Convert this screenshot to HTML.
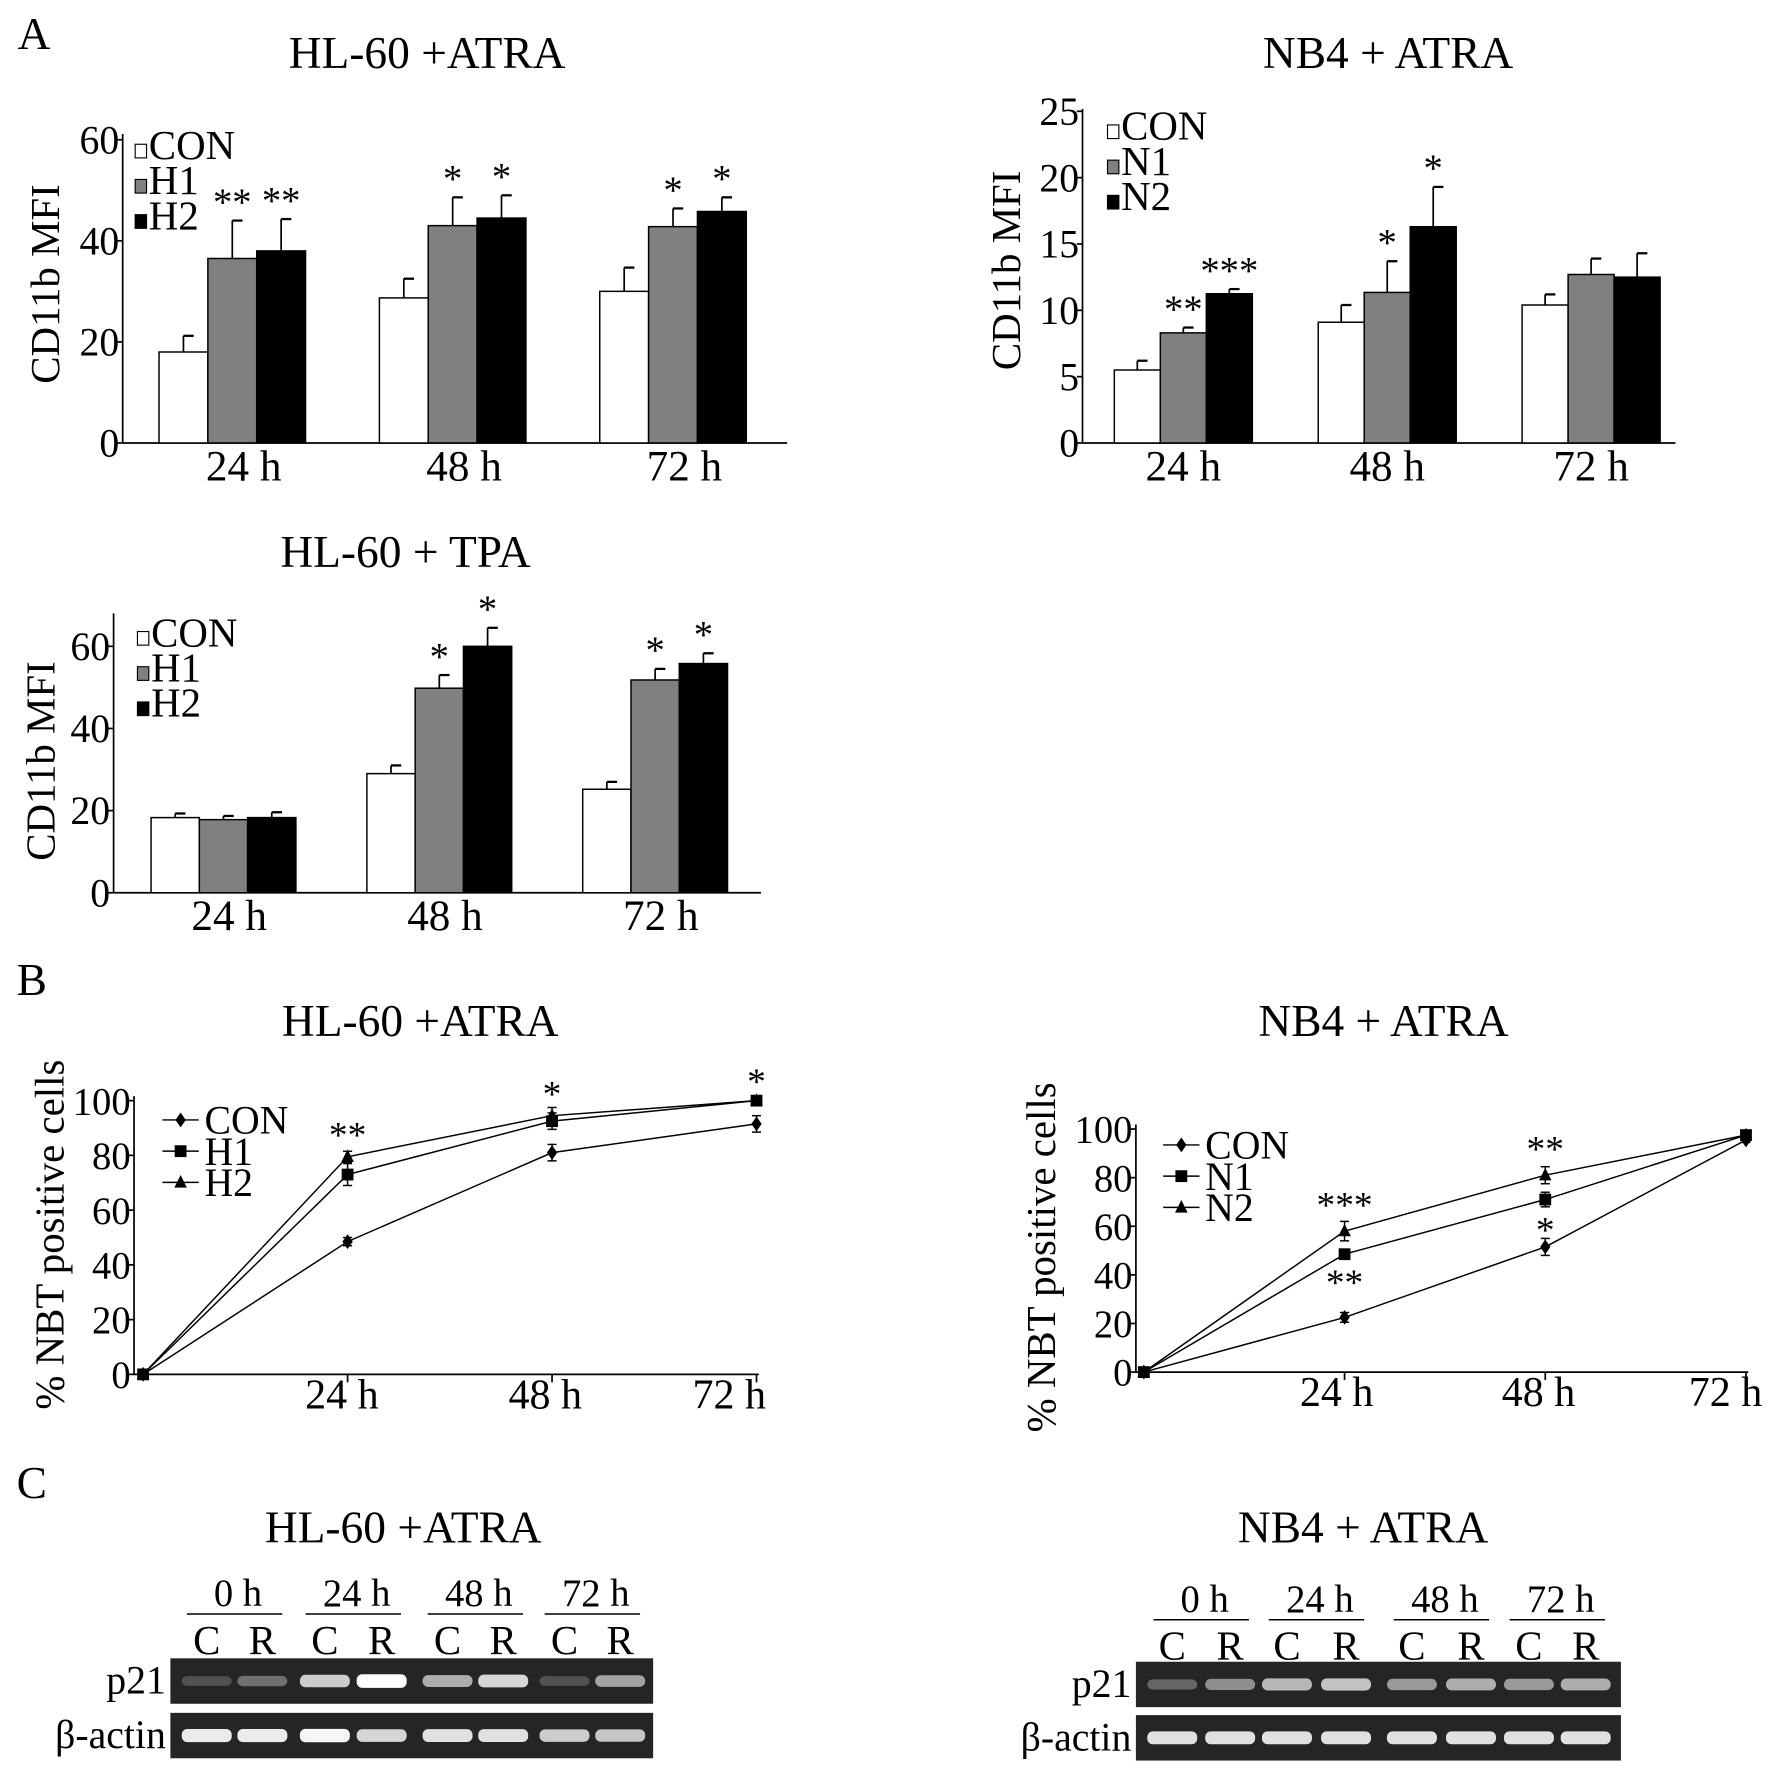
<!DOCTYPE html>
<html><head><meta charset="utf-8"><style>
html,body{margin:0;padding:0;background:#fff}
svg{display:block}
text{font-family:"Liberation Serif",serif;fill:#000}
</style></head><body>
<svg id="fig" xmlns="http://www.w3.org/2000/svg" width="1772" height="1781" viewBox="0 0 1560 1568" preserveAspectRatio="none"></svg>
<script>
// ---- Panel A1: HL-60 + ATRA CD11b ----
const a1Categories = ["24 h","48 h","72 h"];
const a1Series = ["CON","H1","H2"];
const a1Con = [18, 28.7, 30];
const a1H1 = [36.5, 43, 42.8];
const a1H2 = [38, 44.5, 45.8];
const a1ConErr = [3.2, 3.8, 4.7];
const a1H1Err = [7.5, 5.6, 3.6];
const a1H2Err = [6.3, 4.5, 2.8];
const a1Stars = [["","**","**"],["","*","*"],["","*","*"]];
const a1Ticks = [0,20,40,60];
// ---- Panel A2: NB4 + ATRA CD11b ----
const a2Categories = ["24 h","48 h","72 h"];
const a2Series = ["CON","N1","N2"];
const a2Con = [5.5, 9.1, 10.4];
const a2N1 = [8.3, 11.35, 12.7];
const a2N2 = [11.25, 16.3, 12.5];
const a2ConErr = [0.7, 1.3, 0.8];
const a2N1Err = [0.4, 2.35, 1.2];
const a2N2Err = [0.35, 3.0, 1.8];
const a2Stars = [["","**","***"],["","*","*"],["","",""]];
const a2Ticks = [0,5,10,15,20,25];
// ---- Panel A3: HL-60 + TPA CD11b ----
const a3Categories = ["24 h","48 h","72 h"];
const a3Series = ["CON","H1","H2"];
const a3Con = [18.3, 29, 25.2];
const a3H1 = [17.8, 49.8, 51.8];
const a3H2 = [18.3, 60, 55.8];
const a3ConErr = [1, 2, 1.8];
const a3H1Err = [0.9, 3.2, 2.7];
const a3H2Err = [1.3, 4.5, 2.5];
const a3Stars = [["","",""],["","*","*"],["","*","*"]];
const a3Ticks = [0,20,40,60];
// ---- Panel B1: HL-60 + ATRA NBT ----
const b1Times = ["","24 h","48 h","72 h"];
const b1Series = ["CON","H1","H2"];
const b1Con = [0, 48.5, 81, 91.5];
const b1H1 = [0, 73, 92.5, 100];
const b1H2 = [0, 79.5, 94.5, 100];
const b1ConErr = [0, 1.5, 3, 3];
const b1H1Err = [0, 4, 3, 1];
const b1H2Err = [0, 2, 3, 1];
const b1Ticks = [0,20,40,60,80,100];
// ---- Panel B2: NB4 + ATRA NBT ----
const b2Times = ["","24 h","48 h","72 h"];
const b2Series = ["CON","N1","N2"];
const b2Con = [0, 22.5, 51.5, 95.5];
const b2N1 = [0, 48.5, 71, 97.5];
const b2N2 = [0, 58, 81, 97.5];
const b2ConErr = [0, 2, 3.5, 1];
const b2N1Err = [0, 2, 3, 1];
const b2N2Err = [0, 4, 3.5, 1];
const b2Ticks = [0,20,40,60,80,100];
// ---- Panel C: gels (band intensity 0-1) ----
const gelTimes = ["0 h","24 h","48 h","72 h"];
const gelLanes = ["C","R","C","R","C","R","C","R"];
const c1P21 = [0.15, 0.3, 0.75, 1.0, 0.6, 0.8, 0.15, 0.55];
const c1Actin = [0.9, 0.9, 0.95, 0.8, 0.85, 0.85, 0.75, 0.72];
const c2P21 = [0.25, 0.45, 0.65, 0.7, 0.5, 0.6, 0.5, 0.6];
const c2Actin = [0.85, 0.85, 0.85, 0.85, 0.85, 0.85, 0.85, 0.85];

const NS = "http://www.w3.org/2000/svg";
const svg = document.getElementById("fig");
function el(tag, attrs, parent, txt){
  const e = document.createElementNS(NS, tag);
  for (const k in attrs) e.setAttribute(k, attrs[k]);
  if (txt !== undefined) e.textContent = txt;
  (parent || svg).appendChild(e);
  return e;
}
function txt(x,y,s,size,anchor,parent,name,extra){
  const t = el("text",Object.assign({x:x,y:y,"font-size":size,"text-anchor":anchor||"middle"},extra||{}),parent,s);
  
  
  return t;
}
const fills = ["#ffffff","#808080","#000000"];

function barChart(id, cfg, cats, series, vals, errs, stars, ticks){
  const g = el("g",{},svg);
  
  
  const ymax = ticks[ticks.length-1];
  const Y = v => cfg.y0 - (cfg.y0-cfg.yTop)*v/ymax;
  txt(cfg.titleX, cfg.titleY, cfg.title, 40, "middle", g, "chart-title");
  const ya = el("line",{x1:cfg.x0,y1:cfg.axisTop,x2:cfg.x0,y2:cfg.y0,stroke:"#000","stroke-width":1.5},g);
  
  
  const xa = el("line",{x1:cfg.x0,y1:cfg.y0,x2:cfg.xEnd,y2:cfg.y0,stroke:"#000","stroke-width":1.5},g);
  
  
  ticks.forEach(t=>{
    el("line",{x1:cfg.x0-5,y1:Y(t),x2:cfg.x0,y2:Y(t),stroke:"#000","stroke-width":1.5},g);
    txt(cfg.x0-3, Y(t)+12, String(t), 35, "end", g, "y-tick-label");
  });
  txt(0,0,"CD11b MFI",36,"middle",g,"y-axis-title",{transform:`translate(${cfg.ylX},${cfg.ylY}) rotate(-90)`});
  const nS = series.length;
  cats.forEach((c,i)=>{
    const gx = cfg.firstX + i*cfg.groupStep;
    series.forEach((s,j)=>{
      const x = gx + j*cfg.barW;
      const v = vals[j][i], e = errs[j][i];
      const top = Y(v), etop = Y(v+e);
      el("line",{x1:x+cfg.barW/2,y1:top,x2:x+cfg.barW/2,y2:etop,stroke:"#000","stroke-width":1.5},g);
      el("line",{x1:x+cfg.barW/2,y1:etop,x2:x+cfg.barW/2+9,y2:etop,stroke:"#000","stroke-width":2},g);
      const r = el("rect",{x:x,y:top,width:cfg.barW,height:cfg.y0-top,fill:fills[j],stroke:"#000","stroke-width":1.3},g);
      
      
      if (stars[i][j]) txt(x+cfg.barW/2, etop-5, stars[i][j], 34, "middle", g, "significance-star");
    });
    txt(gx + nS*cfg.barW/2 + cfg.labDx, cfg.y0+33, c, 38, "middle", g, "x-tick-label");
  });
  series.forEach((s,j)=>{
    const ly = cfg.legY + j*31;
    const sq = el("rect",{x:cfg.legX,y:ly-13,width:10,height:12,fill:fills[j],stroke:"#000","stroke-width":1},g);
    
    
    txt(cfg.legX+12, ly, s, 36, "start", g, "legend-entry");
  });
}

barChart("chart-hl60-atra-cd11b",
  {title:"HL-60 +ATRA",titleX:376,titleY:60,x0:108,y0:390,yTop:123,axisTop:118,xEnd:693,firstX:140,groupStep:194,barW:43,ylX:52,ylY:250,legX:119,legY:140,labDx:10},
  a1Categories,a1Series,[a1Con,a1H1,a1H2],[a1ConErr,a1H1Err,a1H2Err],a1Stars,a1Ticks);
barChart("chart-nb4-atra-cd11b",
  {title:"NB4 + ATRA",titleX:1222,titleY:60,x0:953,y0:390,yTop:98,axisTop:96,xEnd:1475,firstX:981,groupStep:179.5,barW:40.5,ylX:898,ylY:238,legX:975,legY:123,labDx:0},
  a2Categories,a2Series,[a2Con,a2N1,a2N2],[a2ConErr,a2N1Err,a2N2Err],a2Stars,a2Ticks);
barChart("chart-hl60-tpa-cd11b",
  {title:"HL-60 + TPA",titleX:357,titleY:499,x0:100,y0:786,yTop:569,axisTop:540,xEnd:670,firstX:133,groupStep:190,barW:42.5,ylX:48,ylY:670,legX:121,legY:569,labDx:5},
  a3Categories,a3Series,[a3Con,a3H1,a3H2],[a3ConErr,a3H1Err,a3H2Err],a3Stars,a3Ticks);

function marker(g,type,x,y,s){
  let m;
  if (type===0) m = el("polygon",{points:`${x},${y-s} ${x+s*0.7},${y} ${x},${y+s} ${x-s*0.7},${y}`,fill:"#000"},g);
  else if (type===1) m = el("rect",{x:x-s*0.8,y:y-s*0.8,width:s*1.6,height:s*1.6,fill:"#000"},g);
  else m = el("polygon",{points:`${x},${y-s} ${x+s*0.85},${y+s*0.7} ${x-s*0.85},${y+s*0.7}`,fill:"#000"},g);
  return m;
}
function lineChart(id,cfg,times,series,vals,errs,ticks,stars){
  const g = el("g",{},svg);
  
  
  const ymax = ticks[ticks.length-1];
  const Y = v => cfg.y0 - (cfg.y0-cfg.yTop)*v/ymax;
  const X = i => cfg.px0 + i*cfg.step;
  txt(cfg.titleX,cfg.titleY,cfg.title,40,"middle",g,"chart-title");
  const ya = el("line",{x1:cfg.x0,y1:cfg.yTop-4,x2:cfg.x0,y2:cfg.y0,stroke:"#000","stroke-width":1.5},g);
  
  
  const xa = el("line",{x1:cfg.x0,y1:cfg.y0,x2:X(times.length-1)+2,y2:cfg.y0,stroke:"#000","stroke-width":1.5},g);
  
  
  ticks.forEach(t=>{
    el("line",{x1:cfg.x0-5,y1:Y(t),x2:cfg.x0,y2:Y(t),stroke:"#000","stroke-width":1.5},g);
    txt(cfg.x0-3,Y(t)+12,String(t),34,"end",g,"y-tick-label");
  });
  times.forEach((t,i)=>{
    if(i===0) return;
    el("line",{x1:X(i),y1:cfg.y0,x2:X(i),y2:cfg.y0+7,stroke:"#000","stroke-width":1.5},g);
    txt(X(i)+cfg.tickDx[i],cfg.y0+30,t,37,"middle",g,"x-tick-label");
  });
  txt(0,0,"% NBT positive cells",36,"middle",g,"y-axis-title",{transform:`translate(${cfg.ylX},${cfg.ylY}) rotate(-90)`});
  series.forEach((s,j)=>{
    const pts = vals[j].map((v,i)=>`${X(i)},${Y(v)}`).join(" ");
    const pl = el("polyline",{points:pts,fill:"none",stroke:"#000","stroke-width":1.3},g);
    
    
    vals[j].forEach((v,i)=>{
      const e = errs[j][i];
      if (e>0){
        el("line",{x1:X(i),y1:Y(v-e),x2:X(i),y2:Y(v+e),stroke:"#000","stroke-width":1.3},g);
        el("line",{x1:X(i)-4,y1:Y(v-e),x2:X(i)+4,y2:Y(v-e),stroke:"#000","stroke-width":1.3},g);
        el("line",{x1:X(i)-4,y1:Y(v+e),x2:X(i)+4,y2:Y(v+e),stroke:"#000","stroke-width":1.3},g);
      }
      const m = marker(g,j,X(i),Y(v),6.5);
      
      
    });
    const ly = cfg.legY + j*27.5;
    el("line",{x1:cfg.legX,y1:ly,x2:cfg.legX+32,y2:ly,stroke:"#000","stroke-width":1.3},g);
    marker(g,j,cfg.legX+16,ly,6.5);
    txt(cfg.legX+37,ly+12,s,35,"start",g,"legend-entry");
  });
  stars.forEach(st=>{
    txt(X(st[0]),Y(st[1])+st[3],st[2],33,"middle",g,"significance-star");
  });
}
lineChart("chart-hl60-atra-nbt",
  {title:"HL-60 +ATRA",titleX:370,titleY:912,x0:118,y0:1210,yTop:969,px0:126,step:180,ylX:56,ylY:1087,legX:143,legY:986,tickDx:[0,-5,-6,-24]},
  b1Times,b1Series,[b1Con,b1H1,b1H2],[b1ConErr,b1H1Err,b1H2Err],b1Ticks,
  [[1,79.5,"**",-8],[2,94.5,"*",-8],[3,100,"*",-6]]);
lineChart("chart-nb4-atra-nbt",
  {title:"NB4 + ATRA",titleX:1218,titleY:912,x0:1000,y0:1208,yTop:994,px0:1007,step:176.7,ylX:929,ylY:1107,legX:1024,legY:1008,tickDx:[0,-7,-6,-18]},
  b2Times,b2Series,[b2Con,b2N1,b2N2],[b2ConErr,b2N1Err,b2N2Err],b2Ticks,
  [[1,58,"***",-12],[1,48.5,"**",36],[2,81,"**",-12],[2,71,"*",38]]);

function gel(id,cfg,p21,actin){
  const g = el("g",{},svg);
  
  
  txt(cfg.titleX,cfg.titleY,cfg.title,40,"middle",g,"gel-title");
  gelTimes.forEach((t,i)=>{
    const cx = (cfg.laneX[2*i]+cfg.laneX[2*i+1])/2;
    txt(cx+3,cfg.timeY,t,34,"middle",g,"time-label");
    el("line",{x1:cx-42,y1:cfg.timeY+7,x2:cx+42,y2:cfg.timeY+7,stroke:"#000","stroke-width":1.3},g);
  });
  gelLanes.forEach((l,i)=>txt(cfg.laneX[i],cfg.timeY+42,l,36,"middle",g,"lane-label"));
  [[p21,cfg.p21Y,"p21","p21-blot"],[actin,cfg.actY,"β-actin","actin-blot"]].forEach(([arr,y,lab,nm])=>{
    const r = el("rect",{x:cfg.x,y:y,width:cfg.w,height:40,fill:"#252525"},g);
    
    
    txt(cfg.x-4,y+31,lab,35,"end",g,nm+"-label");
    arr.forEach((v,i)=>{
      const c = Math.round(50 + 205*v);
      const b = el("rect",{x:cfg.laneX[i]-22,y:y+16-v*2,width:44,height:8+v*4,rx:5,fill:`rgb(${c},${c},${c})`},g);
      
      
    });
  });
}
gel("gel-hl60-atra",{title:"HL-60 +ATRA",titleX:355,titleY:1358,x:150,w:425,timeY:1414,p21Y:1460,actY:1508,laneX:[182,231,286,336,394,443,497,546]},c1P21,c1Actin);
gel("gel-nb4-atra",{title:"NB4 + ATRA",titleX:1200,titleY:1358,x:1000,w:427,timeY:1419,p21Y:1463,actY:1510,laneX:[1032,1083,1133,1185,1243,1295,1346,1396]},c2P21,c2Actin);

txt(30,43,"A",40,"middle",svg,"panel-label-a");
txt(28,876,"B",40,"middle",svg,"panel-label-b");
txt(28,1319,"C",40,"middle",svg,"panel-label-c");
</script>
</body></html>
